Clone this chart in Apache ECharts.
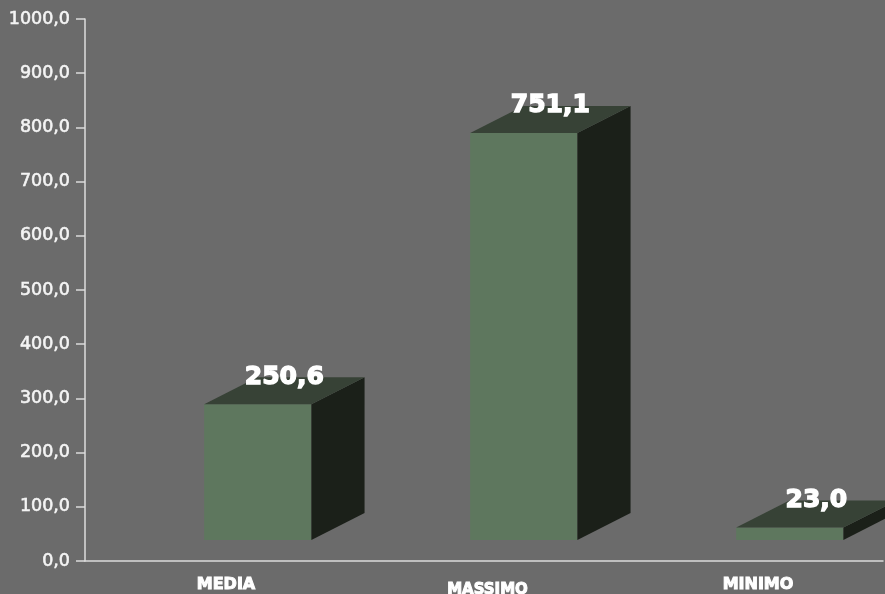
<!DOCTYPE html>
<html>
<head>
<meta charset="utf-8">
<title>Media, massimo, minimo</title>
<script src="https://cdn.jsdelivr.net/npm/echarts@6/dist/echarts.min.js"></script>
<style>
  html, body { margin: 0; padding: 0; background: #6b6b6b; }
  #chart { width: 885px; height: 594px; }
</style>
</head>
<body>
<div id="chart"></div>
<script>
// Categories and values
const categories = ['MEDIA', 'MASSIMO', 'MINIMO'];
const values = [250.6, 751.1, 23.0];
const yTicks = [0, 100, 200, 300, 400, 500, 600, 700, 800, 900, 1000];

const fmt = v => v.toFixed(1).replace('.', ',');

// Colours of the three visible faces of each box
const FRONT = '#5e775e';
const SIDE = '#1b2019';
const TOP = '#374236';

function renderBox(params, api) {
  const i = api.value(0);
  const v = api.value(1);
  const base = api.coord([i, 0]);
  const top = api.coord([i, v]);
  const bw = api.size([1, 0])[0];
  const x0 = base[0] - bw / 2 + bw * 0.448;
  const w = bw * 0.403;
  const lift = 21;          // front face sits above the floor line
  const dx = bw * 0.2;      // depth offset
  const dy = 27;
  const yb = base[1] - lift;
  const yt = top[1] - lift;
  const x1 = x0 + w;
  return {
    type: 'group',
    children: [
      { type: 'rect', shape: { x: x0, y: yt, width: w, height: yb - yt },
        style: { fill: FRONT } },
      { type: 'polygon', shape: { points: [[x1, yt], [x1 + dx, yt - dy], [x1 + dx, yb - dy], [x1, yb]] },
        style: { fill: SIDE } },
      { type: 'polygon', shape: { points: [[x0, yt], [x0 + dx, yt - dy], [x1 + dx, yt - dy], [x1, yt]] },
        style: { fill: TOP } },
      { type: 'text', z2: 10,
        style: { text: fmt(v), x: x0 + w / 2 + dx / 2, y: yt - dy,
                 align: 'center', verticalAlign: 'middle',
                 fill: '#ffffff', stroke: '#ffffff', lineWidth: 1.4,
                 font: 'bold 25px "DejaVu Sans"' } }
    ]
  };
}

const catStyle = {
  color: '#ffffff', fontFamily: 'DejaVu Sans', fontWeight: 'bold',
  textBorderColor: '#ffffff', textBorderWidth: 1
};

const chart = echarts.init(document.getElementById('chart'), null, { renderer: 'canvas' });
chart.setOption({
  backgroundColor: '#6b6b6b',
  animation: false,
  grid: { left: 85, right: 2, top: 19, bottom: 33, containLabel: false, outerBoundsMode: 'none' },
  xAxis: {
    type: 'category',
    data: categories,
    axisLine: { lineStyle: { color: '#dcdcdc', width: 1.5 } },
    axisTick: { length: 10, lineStyle: { color: '#dcdcdc', width: 1.5 } },
    axisLabel: {
      margin: 16,
      formatter: (val) => val === 'MASSIMO' ? '{b|' + val + '}' : '{a|' + val + '}',
      rich: {
        a: Object.assign({ fontSize: 16, padding: [0, 0, 0, 16] }, catStyle),
        b: Object.assign({ fontSize: 15, padding: [6, 0, 0, 7] }, catStyle)
      }
    },
    splitLine: { show: false }
  },
  yAxis: {
    type: 'value',
    min: 0,
    max: 1000,
    interval: 100,
    axisLine: { show: true, lineStyle: { color: '#dcdcdc', width: 1.5 } },
    axisTick: { show: true, length: 9, lineStyle: { color: '#dcdcdc', width: 1.5 } },
    axisLabel: {
      margin: 15,
      color: '#f4f4f4',
      fontFamily: 'DejaVu Sans',
      fontSize: 17.5,
      textBorderColor: '#f4f4f4',
      textBorderWidth: 0.6,
      formatter: (v) => yTicks.includes(v) ? fmt(v) : ''
    },
    splitLine: { show: false }
  },
  series: [{
    type: 'custom',
    clip: false,
    renderItem: renderBox,
    data: values.map((v, i) => [i, v])
  }]
});
</script>
</body>
</html>
